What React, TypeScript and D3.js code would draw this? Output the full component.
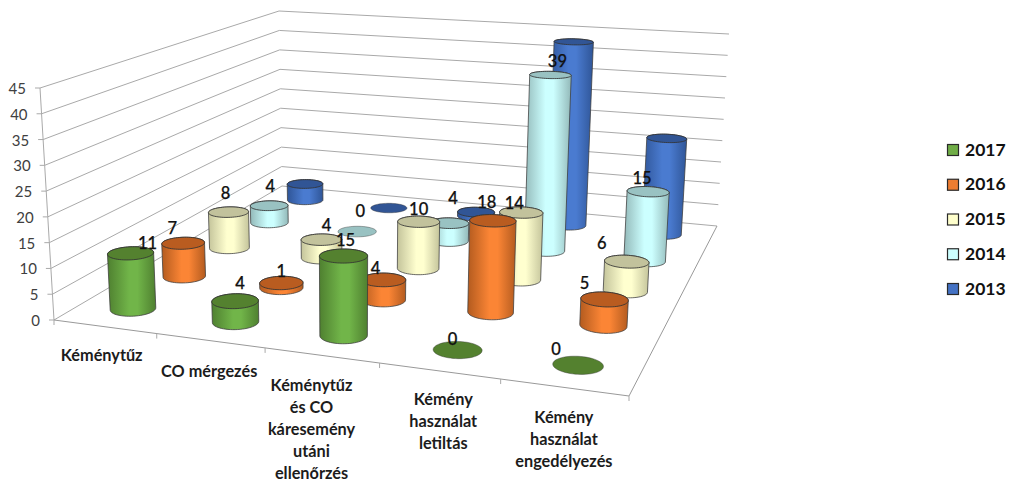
import React from "react";
import * as d3 from "d3";

const categories = [
  ["Kéménytűz"],
  ["CO mérgezés"],
  ["Kéménytűz", "és CO", "káresemény", "utáni", "ellenőrzés"],
  ["Kémény", "használat", "letiltás"],
  ["Kémény", "használat", "engedélyezés"],
];
const seriesNames = ["2017", "2016", "2015", "2014", "2013"];
const v2017 = [11, 4, 15, 0, 0];
const v2016 = [7, 1, 4, 18, 5];
const v2015 = [8, 4, 10, 14, 6];
const v2014 = [4, 0, 4, 39, 15];
const v2013 = [4, 0, 1, 43, 22];
const seriesValues = [v2017, v2016, v2015, v2014, v2013];
const labelled = [true, true, true, true, false];
const valueTicks = d3.range(0, 50, 5);

const sideColors = ["#4f8030", "#b35b1f", "#c4c49b", "#93b9b9", "#2f5597"];
const midColors = ["#71b549", "#fb8535", "#ffffcf", "#ccffff", "#4a7bd0"];
const topColors = ["#54812f", "#b95c20", "#c2c29c", "#99c2c2", "#315595"];
const legendFill = ["#70ad47", "#ed7d31", "#ffffcc", "#ccffff", "#4472c4"];

// chart-frame geometry: projected corners of the 3D box
const floorQuad: [number, number][] = [[54, 320], [629, 396], [717, 226], [282, 186]];
const ceilQuad: [number, number][] = [[40, 88], [642, 132], [729, 34], [279, 11]];

// text layout
const labelNudge: [number, number][][] = [
  [[17, 8], [-11, 3], [-3, -1], [1, -2]],
  [[5, 0], [0, 6], [5, 3], [3, -3]],
  [[2, 2], [-8, 6], [0, 5], [4, -7]],
  [[-5, 7], [-6, -1], [-7, 8], [7, 4]],
  [[-22, 2], [-20, 2], [-25, -1], [-6, 4]],
];
const catLabelOffset: [number, number][] = [[-3, 28], [-1, 30], [-10, 29], [4, 28], [0, 29]];

function homography(q: [number, number][]) {
  const [[x0, y0], [x1, y1], [x2, y2], [x3, y3]] = q;
  const dx1 = x1 - x2, dx2 = x3 - x2, sx = x0 - x1 + x2 - x3;
  const dy1 = y1 - y2, dy2 = y3 - y2, sy = y0 - y1 + y2 - y3;
  const den = dx1 * dy2 - dx2 * dy1;
  const g = (sx * dy2 - dx2 * sy) / den;
  const h = (dx1 * sy - sx * dy1) / den;
  const a = x1 - x0 + g * x1, b = x3 - x0 + h * x3;
  const d = y1 - y0 + g * y1, e = y3 - y0 + h * y3;
  return (u: number, v: number): [number, number] => {
    const w = g * u + h * v + 1;
    return [(a * u + b * v + x0) / w, (d * u + e * v + y0) / w];
  };
}
const floorH = homography(floorQuad);
const ceilH = homography(ceilQuad);
const cScale = d3.scaleLinear().domain([0, 5]).range([0, 1]);
const sScale = d3.scaleLinear().domain([0, 5]).range([0, 1]);
const vScale = d3.scaleLinear().domain([0, 45]).range([0, 1]);

function project(c: number, s: number, v: number): [number, number] {
  const f = floorH(cScale(c), sScale(s));
  const t = ceilH(cScale(c), sScale(s));
  const k = vScale(v);
  return [f[0] + (t[0] - f[0]) * k, f[1] + (t[1] - f[1]) * k];
}

const R = 0.2;
const angles = d3.range(0, 2 * Math.PI, Math.PI / 30);
const ring = (c: number, s: number, v: number) =>
  angles.map((a) => project(c + 0.5 + R * Math.cos(a), s + 0.5 + R * Math.sin(a), v));
const closed = d3.line().curve(d3.curveLinearClosed);

const FONT = "Lato, 'Open Sans', sans-serif";

export default function App() {
  const order: { c: number; s: number }[] = [];
  for (let s = 4; s >= 0; s--) for (let c = 0; c < 5; c++) order.push({ c, s });
  const seg = (a: [number, number], b: [number, number], key: string, color = "#a9a9a9") => (
    <line key={key} x1={a[0]} y1={a[1]} x2={b[0]} y2={b[1]} stroke={color} strokeWidth={1} />
  );
  return (
    <svg width={1015} height={481} style={{ position: "absolute", left: 0, top: 0, background: "#fff" }} fontFamily={FONT}>
      <defs>
        {seriesNames.map((n, i) => (
          <linearGradient key={n} id={`g${i}`} x1="0" x2="1" y1="0" y2="0">
            <stop offset="0" stopColor={sideColors[i]} />
            <stop offset="0.45" stopColor={midColors[i]} />
            <stop offset="0.62" stopColor={midColors[i]} />
            <stop offset="1" stopColor={sideColors[i]} />
          </linearGradient>
        ))}
      </defs>

      {valueTicks.map((v) => (
        <g key={v}>
          {seg(project(0, 0, v), project(0, 5, v), `l${v}`)}
          {seg(project(0, 5, v), project(5, 5, v), `b${v}`)}
          {seg(project(0, 0, v), [project(0, 0, v)[0] - 5, project(0, 0, v)[1]], `t${v}`)}
          <text x={project(0, 0, v)[0] - 14} y={project(0, 0, v)[1]} textAnchor="end" dominantBaseline="central" fontSize={15} fill="#404040">{v}</text>
        </g>
      ))}
      {seg(project(0, 0, 0), project(0, 0, 45), "axis")}
      {seg(project(0, 0, 0), project(5, 0, 0), "front", "#999")}
      {seg(project(5, 0, 0), project(5, 5, 0), "right", "#999")}
      {d3.range(0, 6).map((c) => {
        const p = project(c, 0, 0);
        return seg(p, [p[0], p[1] + 5], `ct${c}`, "#a9a9a9");
      })}

      {order.map(({ c, s }) => {
        const v = seriesValues[s][c];
        const top = ring(c, s, v);
        const base = ring(c, s, 0);
        const hull = d3.polygonHull(top.concat(base)) as [number, number][];
        return (
          <g key={`${c}-${s}`}>
            {v > 0 && <path d={closed(hull) as string} fill={`url(#g${s})`} stroke="#3a3a3a" strokeOpacity={0.75} strokeWidth={1} />}
            <path d={closed(top) as string} fill={topColors[s]} stroke="#333" strokeOpacity={v > 0 ? 0.85 : 0.4} strokeWidth={1} />
          </g>
        );
      })}

      {order.filter(({ s }) => labelled[s]).map(({ c, s }) => {
        const p = project(c + 0.5, s + 0.5, seriesValues[s][c]);
        const [dx, dy] = labelNudge[c][s];
        return (
          <text key={`lab${c}-${s}`} x={p[0] + dx} y={p[1] - 18 + dy} textAnchor="middle" dominantBaseline="central" fontSize={16.5} fontWeight={500} fill="#111" stroke="#111" strokeWidth={0.25}>
            {seriesValues[s][c]}
          </text>
        );
      })}

      {categories.map((lines, c) => {
        const p = project(c + 0.5, 0, 0);
        const [dx, dy] = catLabelOffset[c];
        return (
          <text key={c} textAnchor="middle" fontSize={16.3} fontWeight={700} fill="#1c1c1c">
            {lines.map((l, i) => (
              <tspan key={i} x={p[0] + dx} y={p[1] + dy + i * 22} dominantBaseline="central">{l}</tspan>
            ))}
          </text>
        );
      })}

      {seriesNames.map((n, i) => {
        const y = d3.scalePoint<number>().domain(d3.range(5)).range([150, 289])(i) as number;
        return (
          <g key={n}>
            <rect x={947.5} y={y - 5.5} width={11} height={11} fill={legendFill[i]} stroke="#2a2a2a" strokeWidth={1.2} />
            <text x={965} y={y - 1} dominantBaseline="central" fontSize={17.5} fontWeight={700} fill="#111">{n}</text>
          </g>
        );
      })}
    </svg>
  );
}
